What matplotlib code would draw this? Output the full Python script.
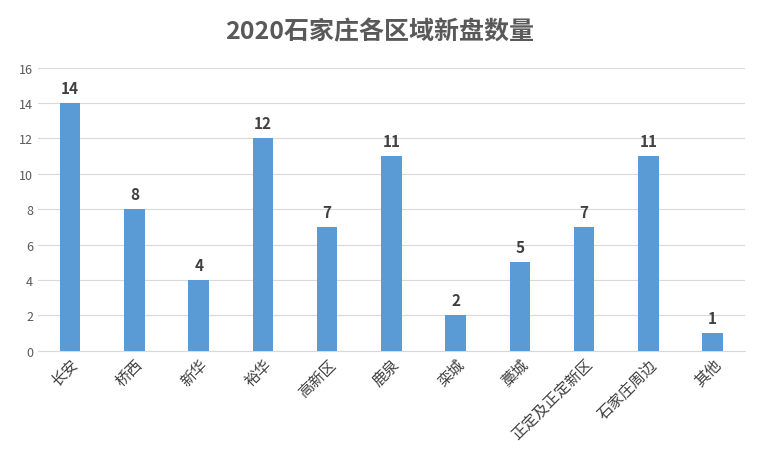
import matplotlib.pyplot as plt

plt.rcParams['font.family'] = ['Noto Sans CJK SC', 'DejaVu Sans']

districts = ['长安', '桥西', '新华', '裕华', '高新区', '鹿泉', '栾城', '藁城',
             '正定及正定新区', '石家庄周边', '其他']
counts = [14, 8, 4, 12, 7, 11, 2, 5, 7, 11, 1]

fig = plt.figure(figsize=(7.6, 4.64), dpi=100)
ax = fig.add_axes([0.05, 0.242, 0.93, 0.61])
x = range(len(districts))
bars = ax.bar(x, counts, width=0.32, color='#5B9BD5', zorder=3)
for b, v in zip(bars, counts):
    ax.text(b.get_x() + b.get_width() / 2, v + 0.4, str(v), ha='center', va='bottom',
            fontsize=11, fontweight='bold', color='#404040')

ax.set_ylim(0, 16)
ax.set_yticks(range(0, 17, 2))
ax.set_xlim(-0.5, len(districts) - 0.5)
ax.set_xticks(list(x))
ax.set_xticklabels(districts, rotation=45, ha='right', rotation_mode='anchor', fontsize=11, color='#404040')
ax.tick_params(axis='y', labelsize=9, colors='#595959', length=0)
ax.tick_params(axis='x', length=0)
ax.grid(axis='y', color='#d9d9d9', linewidth=0.8, zorder=0)
for s in ['top', 'right', 'left']:
    ax.spines[s].set_visible(False)
ax.spines['bottom'].set_color('#d9d9d9')

fig.text(0.5, 0.93, '2020石家庄各区域新盘数量', ha='center', va='center',
         fontsize=18, fontweight='bold', color='#595959')
fig.savefig('out.png', dpi=100)
